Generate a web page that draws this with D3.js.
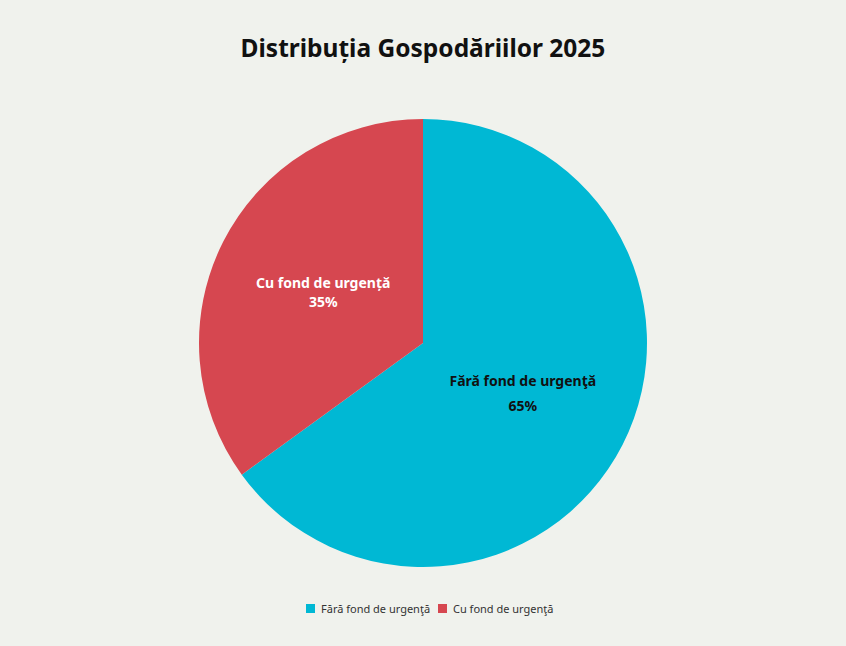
<!DOCTYPE html>
<html><head><meta charset="utf-8">
<script src="https://cdn.jsdelivr.net/npm/d3@7"></script>
<style>body{margin:0;background:#f0f2ed;}svg{display:block;font-family:"Noto Sans","Open Sans",sans-serif;}</style>
</head><body><svg id="c" width="846" height="646"></svg>
<script>
const categories = ["Fără fond de urgență", "Cu fond de urgență"];
const legendLabels = ["Fără fond de urgenţă", "Cu fond de urgenţă"];
const values = [65, 35];
const colors = ["#00b8d4", "#d64750"];
const title = "Distribuția Gospodăriilor 2025";

const svg = d3.select("#c");
svg.append("rect").attr("width",846).attr("height",646).attr("fill","#f0f2ed");
svg.append("text").attr("x",423).attr("y",57).attr("text-anchor","middle")
  .attr("font-size",24.5).attr("font-weight","bold").attr("fill","#111").text(title);

const cx=423, cy=343, r=224;
const pie = d3.pie().sort(null).value(d=>d);
const arcs = pie(values);
const arc = d3.arc().innerRadius(0).outerRadius(r);
const labelArc = d3.arc().innerRadius(r*0.5).outerRadius(r*0.5);
const g = svg.append("g").attr("transform",`translate(${cx},${cy})`);
g.selectAll("path").data(arcs).join("path").attr("d",arc).attr("fill",(d,i)=>colors[i]);

arcs.forEach((d,i)=>{
  const [x,y]=labelArc.centroid(d);
  const fill = i===0 ? "#111" : "#fff";
  const gap = i===0 ? 25 : 19;
  const t = g.append("text").attr("text-anchor","middle").attr("font-size",14).attr("font-weight","bold").attr("fill",fill);
  t.append("tspan").attr("x",x).attr("y",y-gap/2+5).text(i===0?legendLabels[0]:categories[1]);
  t.append("tspan").attr("x",x).attr("y",y+gap/2+5).text(values[i]+"%");
});

const lg = svg.append("g").attr("font-size",11).attr("fill","#333");
const items=[{x:306},{x:438}];
legendLabels.forEach((l,i)=>{
  lg.append("rect").attr("x",items[i].x).attr("y",604).attr("width",9).attr("height",9).attr("fill",colors[i]);
  lg.append("text").attr("x",items[i].x+15).attr("y",612.5).attr("fill","#333").text(l);
});
</script></body></html>
